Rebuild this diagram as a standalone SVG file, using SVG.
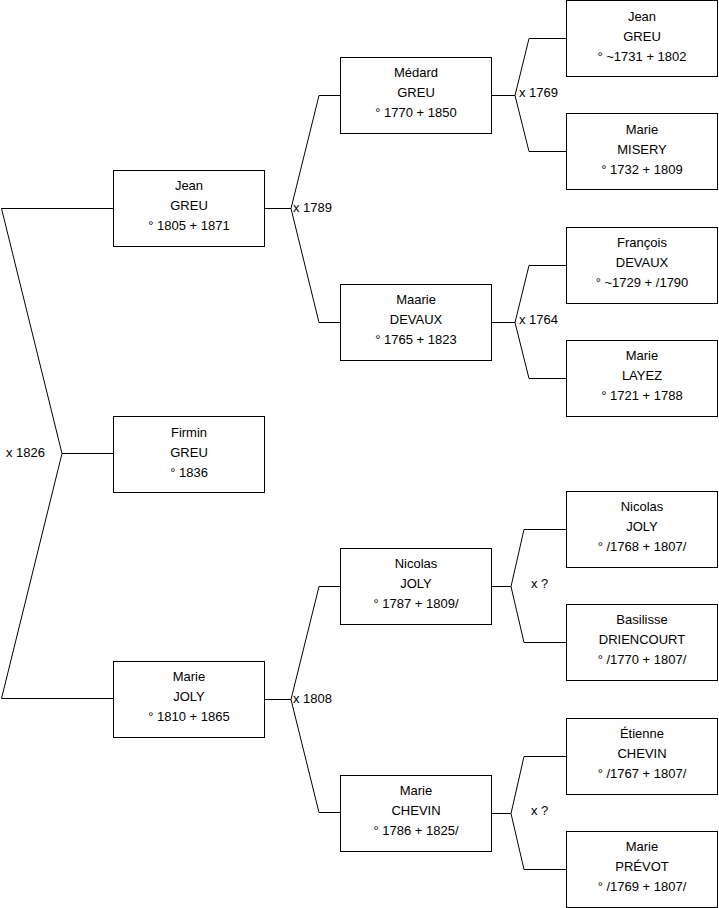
<svg xmlns="http://www.w3.org/2000/svg" width="719" height="908" viewBox="0 0 719 908">
<style>
.box{fill:#fff;stroke:#000;stroke-width:1}
.t{font-family:"Liberation Sans",Arial,sans-serif;font-size:13px;fill:#000;text-anchor:middle}
.l{font-family:"Liberation Sans",Arial,sans-serif;font-size:13px;fill:#000}
.c{fill:none;stroke:#000;stroke-width:1}
</style>
<rect width="719" height="908" fill="#fff"/>
<g id="connectors">
<path class="c" d="M113.5,208.5 H1.5 L62,453.5 H113.5 M62,453.5 L1.5,698.5 H113.5"/>
<path class="c" d="M264.5,208.5 H291 L319,95.5 H340.5 M291,208.5 L319,322.5 H340.5"/>
<path class="c" d="M264.5,699.5 H291 L319,586.5 H340.5 M291,699.5 L319,812.5 H340.5"/>
<path class="c" d="M491.5,95.5 H515 L529,38.5 H566.5 M515,95.5 L529,151.5 H566.5"/>
<path class="c" d="M491.5,322.5 H515 L529,265.5 H566.5 M515,322.5 L529,378.5 H566.5"/>
<path class="c" d="M491.5,586.5 H511 L524,529.5 H566.5 M511,586.5 L524,642.5 H566.5"/>
<path class="c" d="M491.5,813.5 H511 L524,756.5 H566.5 M511,813.5 L524,869.5 H566.5"/>
<text class="l" x="6" y="457">x 1826</text>
<text class="l" x="293" y="212">x 1789</text>
<text class="l" x="293" y="703">x 1808</text>
<text class="l" x="519" y="97">x 1769</text>
<text class="l" x="519" y="324">x 1764</text>
<text class="l" x="531" y="588">x ?</text>
<text class="l" x="531" y="815">x ?</text>
</g>
<g id="jean-greu-1805">
<rect class="box" x="113.5" y="170.5" width="151" height="76"/>
<text class="t" x="189" y="190">Jean</text><text class="t" x="189" y="210">GREU</text><text class="t" x="189" y="230">° 1805 + 1871</text>
</g>
<g id="firmin-greu">
<rect class="box" x="113.5" y="416.5" width="151" height="76"/>
<text class="t" x="189" y="437">Firmin</text><text class="t" x="189" y="457">GREU</text><text class="t" x="189" y="477">° 1836</text>
</g>
<g id="marie-joly-1810">
<rect class="box" x="113.5" y="661.5" width="151" height="76"/>
<text class="t" x="189" y="681">Marie</text><text class="t" x="189" y="701">JOLY</text><text class="t" x="189" y="721">° 1810 + 1865</text>
</g>
<g id="medard-greu">
<rect class="box" x="340.5" y="57.5" width="151" height="76"/>
<text class="t" x="416" y="77">Médard</text><text class="t" x="416" y="97">GREU</text><text class="t" x="416" y="117">° 1770 + 1850</text>
</g>
<g id="maarie-devaux">
<rect class="box" x="340.5" y="284.5" width="151" height="76"/>
<text class="t" x="416" y="304">Maarie</text><text class="t" x="416" y="324">DEVAUX</text><text class="t" x="416" y="344">° 1765 + 1823</text>
</g>
<g id="nicolas-joly-1787">
<rect class="box" x="340.5" y="548.5" width="151" height="76"/>
<text class="t" x="416" y="568">Nicolas</text><text class="t" x="416" y="588">JOLY</text><text class="t" x="416" y="608">° 1787 + 1809/</text>
</g>
<g id="marie-chevin">
<rect class="box" x="340.5" y="775.5" width="151" height="76"/>
<text class="t" x="416" y="795">Marie</text><text class="t" x="416" y="815">CHEVIN</text><text class="t" x="416" y="835">° 1786 + 1825/</text>
</g>
<g id="jean-greu-1731">
<rect class="box" x="566.5" y="0.5" width="151" height="76"/>
<text class="t" x="642" y="21">Jean</text><text class="t" x="642" y="41">GREU</text><text class="t" x="642" y="61">° ~1731 + 1802</text>
</g>
<g id="marie-misery">
<rect class="box" x="566.5" y="113.5" width="151" height="76"/>
<text class="t" x="642" y="134">Marie</text><text class="t" x="642" y="154">MISERY</text><text class="t" x="642" y="174">° 1732 + 1809</text>
</g>
<g id="francois-devaux">
<rect class="box" x="566.5" y="227.5" width="151" height="76"/>
<text class="t" x="642" y="247">François</text><text class="t" x="642" y="267">DEVAUX</text><text class="t" x="642" y="287">° ~1729 + /1790</text>
</g>
<g id="marie-layez">
<rect class="box" x="566.5" y="340.5" width="151" height="76"/>
<text class="t" x="642" y="360">Marie</text><text class="t" x="642" y="380">LAYEZ</text><text class="t" x="642" y="400">° 1721 + 1788</text>
</g>
<g id="nicolas-joly-1768">
<rect class="box" x="566.5" y="491.5" width="151" height="76"/>
<text class="t" x="642" y="511">Nicolas</text><text class="t" x="642" y="531">JOLY</text><text class="t" x="642" y="551">° /1768 + 1807/</text>
</g>
<g id="basilisse-driencourt">
<rect class="box" x="566.5" y="604.5" width="151" height="76"/>
<text class="t" x="642" y="624">Basilisse</text><text class="t" x="642" y="644">DRIENCOURT</text><text class="t" x="642" y="664">° /1770 + 1807/</text>
</g>
<g id="etienne-chevin">
<rect class="box" x="566.5" y="718.5" width="151" height="76"/>
<text class="t" x="642" y="738">Étienne</text><text class="t" x="642" y="758">CHEVIN</text><text class="t" x="642" y="778">° /1767 + 1807/</text>
</g>
<g id="marie-prevot">
<rect class="box" x="566.5" y="831.5" width="151" height="76"/>
<text class="t" x="642" y="851">Marie</text><text class="t" x="642" y="871">PRÉVOT</text><text class="t" x="642" y="891">° /1769 + 1807/</text>
</g>
</svg>
